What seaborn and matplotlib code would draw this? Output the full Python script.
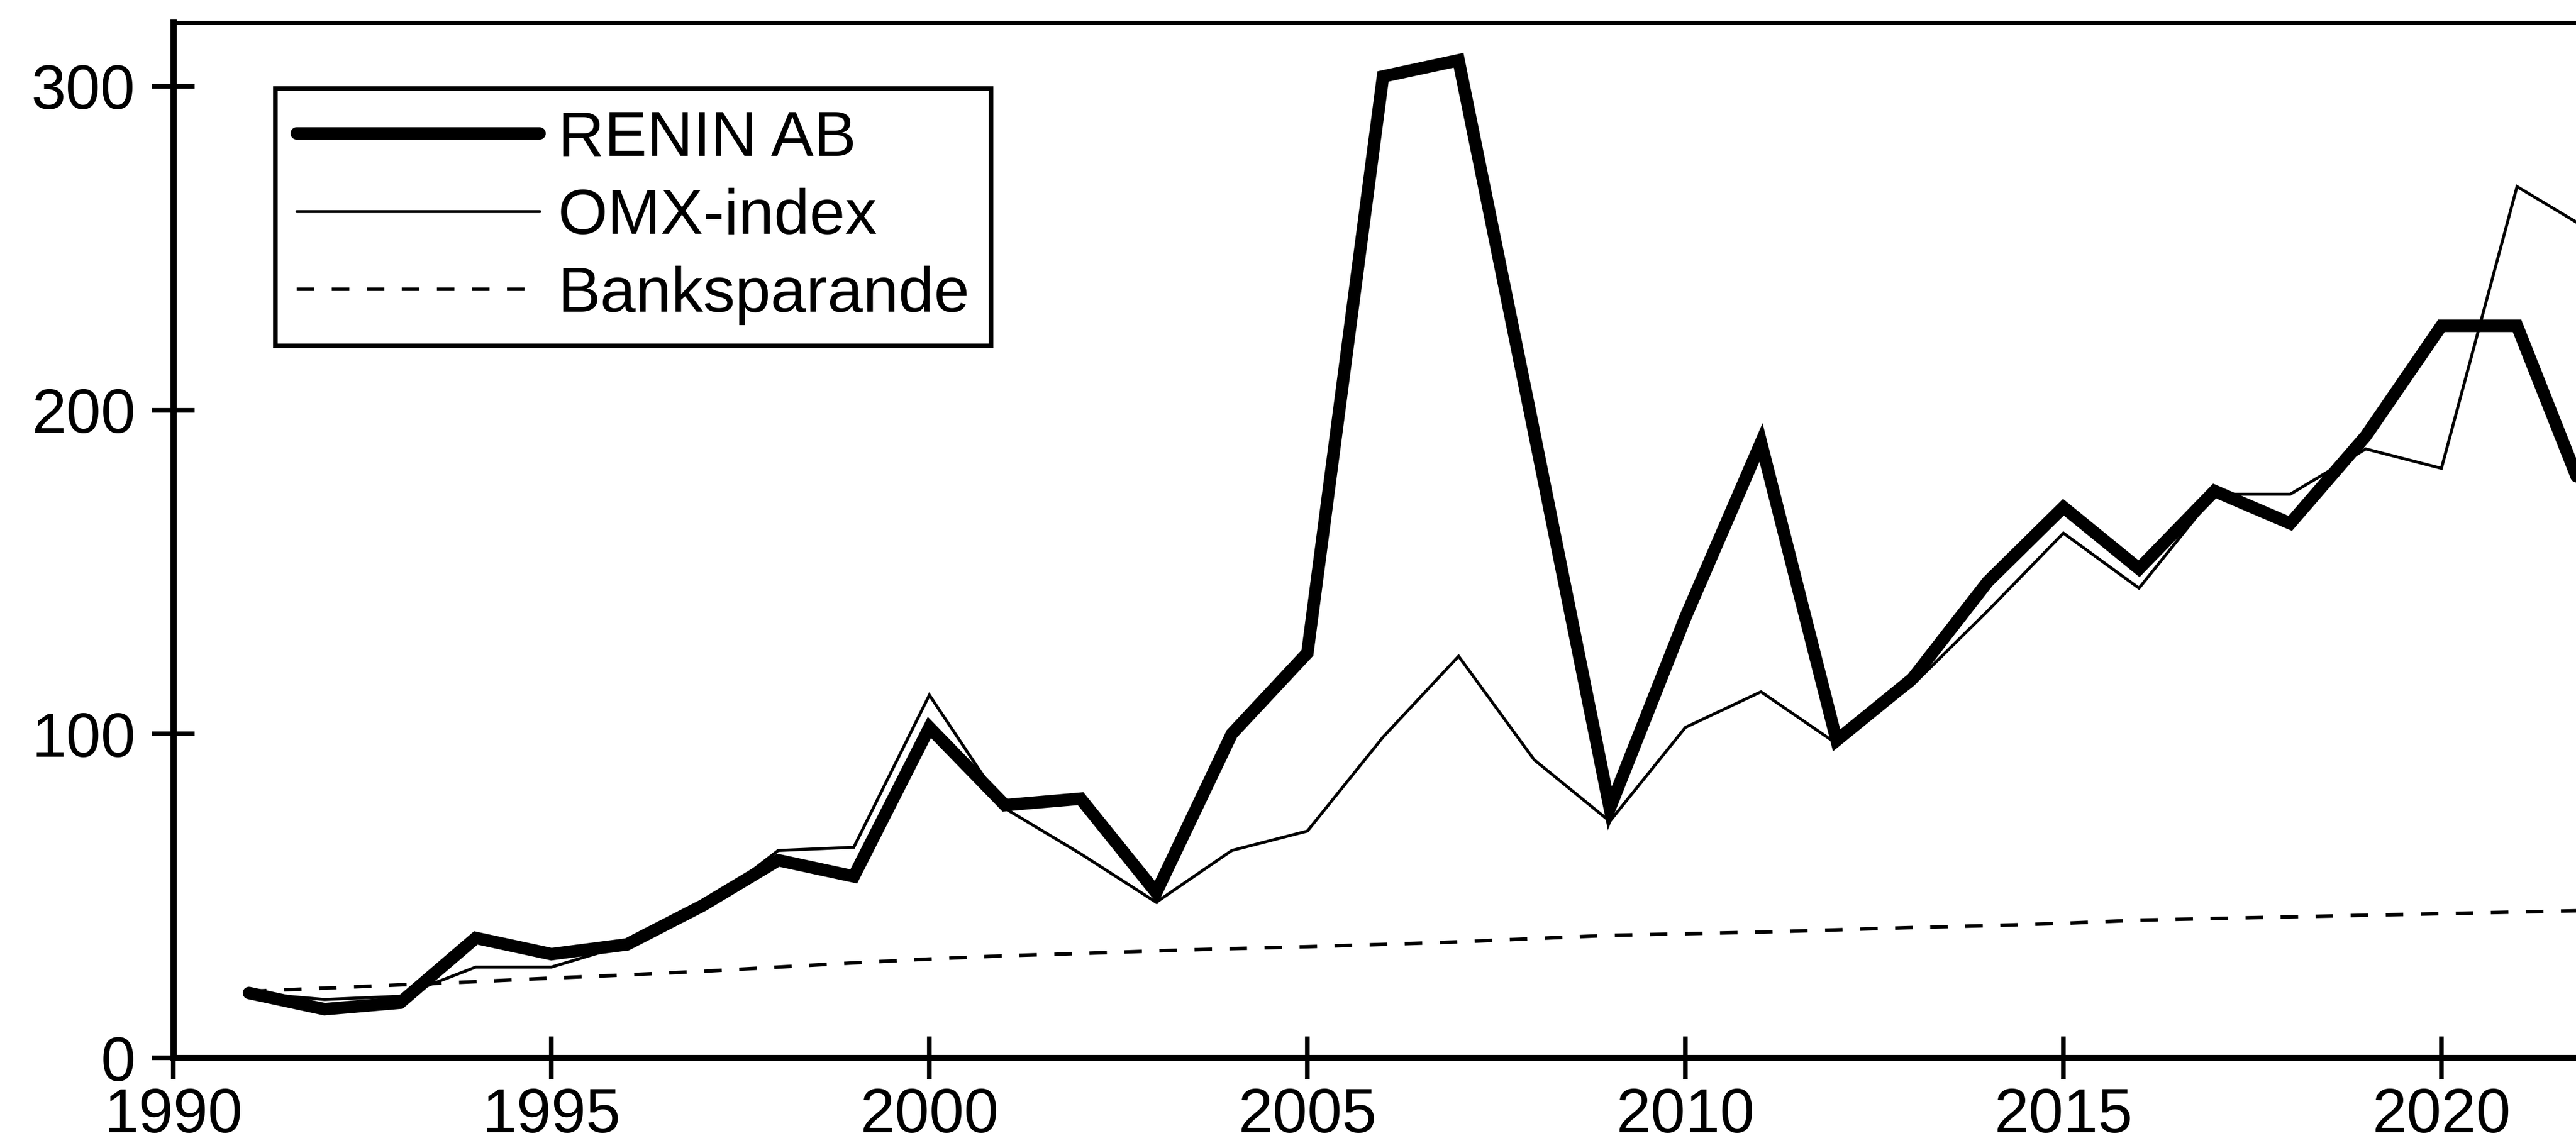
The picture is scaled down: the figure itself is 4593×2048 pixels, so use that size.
import numpy as np
import pandas as pd
import matplotlib
matplotlib.use("Agg")
import matplotlib.pyplot as plt
import seaborn as sns

# Data
years = list(range(1991, 2023))
renin = [20, 15, 17, 37, 32, 35, 47, 61, 56, 102, 78, 80, 51, 100, 125,
         303, 308, 193, 77, 136, 190, 98, 117, 147, 170, 151, 175, 165,
         192, 226, 226, 167]
omx = [20, 18, 19, 28, 28, 35, 46, 64, 65, 112, 77, 63, 48, 64, 70,
       99, 124, 92, 73, 102, 113, 97, 115, 138, 162, 145, 174, 174,
       188, 182, 269, 255]
bank = [20.5, 21.5, 22.5, 23.5, 24.6, 25.6, 26.7, 28, 29.3, 30.5, 31.5,
        32.2, 33, 33.7, 34.3, 35, 35.8, 36.8, 37.8, 38.3, 38.8, 39.5, 40.2,
        40.8, 41.5, 42.5, 43, 43.5, 44, 44.5, 45, 45.5]
series_names = ["RENIN AB", "OMX-index", "Banksparande"]
x_ticks = [1990, 1995, 2000, 2005, 2010, 2015, 2020]
y_ticks = [0, 100, 200, 300]

sns.set_style("white")
plt.rcParams['font.family'] = ['Liberation Sans', 'DejaVu Sans']
plt.rcParams['text.color'] = 'black'
plt.rcParams['lines.solid_joinstyle'] = 'miter'
plt.rcParams['lines.dash_joinstyle'] = 'miter'

df = pd.DataFrame({"year": years, "renin": renin, "omx": omx, "bank": bank})

fig = plt.figure(figsize=(45.93, 20.48), dpi=100)
ax = fig.add_axes([0.0673, 0.0786, 1.0 - 0.0673, 0.9019])

sns.lineplot(data=df, x="year", y="renin", ax=ax, color="black",
             linewidth=16, label=series_names[0])
sns.lineplot(data=df, x="year", y="omx", ax=ax, color="black",
             linewidth=3.8, label=series_names[1])
sns.lineplot(data=df, x="year", y="bank", ax=ax, color="black",
             linewidth=4.5, linestyle=(0, (5, 5)), label=series_names[2])

ax.set_xlim(1990, 2021.78)
ax.set_ylim(0, 319.7)
ax.set_xticks(x_ticks)
ax.set_yticks(y_ticks)
ax.set_xlabel("")
ax.set_ylabel("")

ax.spines["left"].set_linewidth(8)
ax.spines["bottom"].set_linewidth(8)
ax.spines["top"].set_linewidth(5)
for side in ["left", "bottom", "top"]:
    ax.spines[side].set_color("black")
ax.spines["right"].set_visible(False)

ax.tick_params(axis="both", direction="inout", length=55, width=6,
               color="black", labelsize=80, labelcolor="black")
ax.tick_params(axis="x", bottom=True, top=False, pad=10)
ax.tick_params(axis="y", left=True, right=False, pad=21)

leg = ax.legend(loc="upper left", bbox_to_anchor=(0.0425, 0.936),
                borderaxespad=0, fontsize=82, frameon=True, fancybox=False,
                framealpha=1, edgecolor="black", handlelength=3.8,
                handletextpad=0.29, labelspacing=0.29, borderpad=0.33)
leg.get_frame().set_linewidth(6)
for t in leg.get_texts():
    t.set_color("black")

fig.savefig("out.png", dpi=100)
